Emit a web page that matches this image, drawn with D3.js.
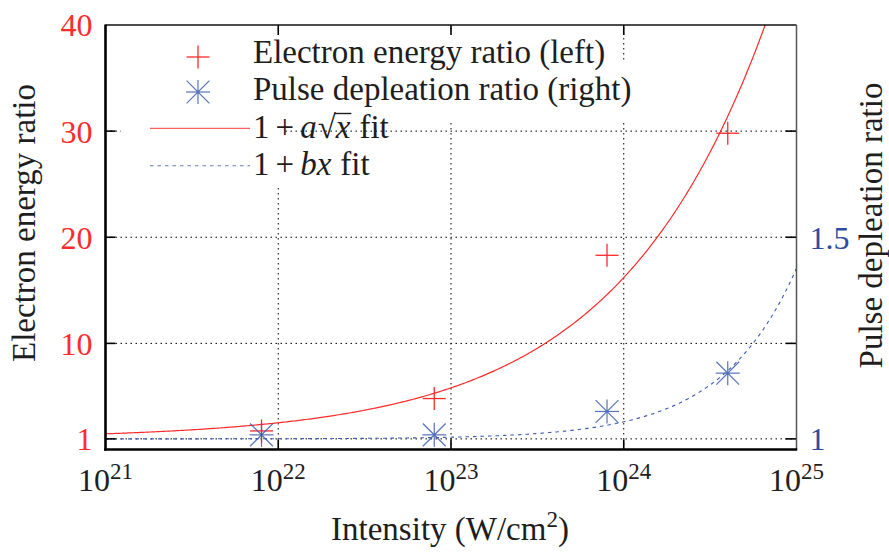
<!DOCTYPE html>
<html>
<head>
<meta charset="utf-8">
<script src="https://cdn.jsdelivr.net/npm/d3@7"></script>
<style>
  html, body { margin: 0; padding: 0; background: #fff; }
  svg { display: block; font-family: "Liberation Serif", "Times New Roman", serif; }
</style>
</head>
<body>
<svg id="chart" width="889" height="552"></svg>
<script>
// ---------------- data ----------------
const xTickExponents = [21, 22, 23, 24, 25];
const xTickValues = [1e21, 1e22, 1e23, 1e24, 1e25];
const leftTickValues = [1, 10, 20, 30, 40];
const rightTickValues = [1, 1.5];
const rightTickLabels = ["1", "1.5"];
const intensity = [8e21, 8e22, 8e23, 4e24];
const electronRatio = [1.75, 4.8, 18.3, 29.8];
const pulseRatio = [1.01, 1.01, 1.068, 1.163];
const fitA = 1.52e-11;   // 1 + a*sqrt(x)
const fitB = 4.23e-26;   // 1 + b*x
const legendLabels = ["Electron energy ratio (left)", "Pulse depleation ratio (right)"];

// ---------------- setup ----------------
const RED = "#ff2a2a", BLUE = "#3a5bb0", LBLUE = "#2d4c9f", INK = "#1e1e1e";
const svg = d3.select("#chart");
const L = 105.5, R = 796.5, T = 25, B = 449.5;

const x = d3.scaleLog().domain([1e21, 1e25]).range([L, R]);
const yL = d3.scaleLinear().domain([0, 40]).range([B, T]);
// right axis tied to left: right = 1 + (left - 1) / 38
const yR = d3.scaleLinear().domain([1 - 1 / 38, 1 + 39 / 38]).range([B, T]);

svg.append("defs").append("clipPath").attr("id", "clip")
  .append("rect").attr("x", L).attr("y", T).attr("width", R - L).attr("height", B - T);

// ---------------- grid ----------------
const grid = svg.append("g").attr("stroke", "#000").attr("stroke-width", 1)
  .attr("stroke-dasharray", "1.5,3.5");
grid.selectAll("line.v").data(xTickValues.slice(1, -1)).join("line")
  .attr("x1", d => x(d)).attr("x2", d => x(d)).attr("y1", B).attr("y2", T);
grid.selectAll("line.h").data(leftTickValues.slice(0, -1)).join("line")
  .attr("y1", d => yL(d)).attr("y2", d => yL(d)).attr("x1", L).attr("x2", R);

// key opaque areas (grid hidden behind legend as in the original)
const keyBg = svg.append("g").attr("fill", "#fff");
keyBg.append("rect").attr("x", 121).attr("y", 33).attr("width", 485).attr("height", 88);
keyBg.append("rect").attr("x", 121).attr("y", 63).attr("width", 511).attr("height", 58);
keyBg.append("rect").attr("x", 121).attr("y", 120).attr("width", 161).attr("height", 67);

// ---------------- fit curves ----------------
const plot = svg.append("g").attr("clip-path", "url(#clip)");
const xs = d3.range(0, 401).map(i => Math.pow(10, 21 + i * 4 / 400));
plot.append("path")
  .datum(xs)
  .attr("fill", "none").attr("stroke", RED).attr("stroke-width", 1.2)
  .attr("d", d3.line().x(d => x(d)).y(d => yL(1 + fitA * Math.sqrt(d))));
plot.append("path")
  .datum(xs)
  .attr("fill", "none").attr("stroke", BLUE).attr("stroke-width", 1.1)
  .attr("stroke-dasharray", "3.5,4")
  .attr("d", d3.line().x(d => x(d)).y(d => yR(1 + fitB * d)));

// ---------------- markers ----------------
function plus(g, cx, cy, h) {
  g.append("line").attr("x1", cx - h).attr("x2", cx + h).attr("y1", cy).attr("y2", cy);
  g.append("line").attr("x1", cx).attr("x2", cx).attr("y1", cy - h).attr("y2", cy + h);
}
function star(g, cx, cy, h) {
  plus(g, cx, cy, h);
  const d = h * 0.95;
  g.append("line").attr("x1", cx - d).attr("x2", cx + d).attr("y1", cy - d).attr("y2", cy + d);
  g.append("line").attr("x1", cx - d).attr("x2", cx + d).attr("y1", cy + d).attr("y2", cy - d);
  g.append("circle").attr("cx", cx).attr("cy", cy).attr("r", 1.6).attr("fill", BLUE).attr("stroke", "none");
}
const redG = svg.append("g").attr("stroke", RED).attr("stroke-width", 1.3);
intensity.forEach((v, i) => plus(redG, x(v), yL(electronRatio[i]), 11.5));
const blueG = svg.append("g").attr("stroke", BLUE).attr("stroke-width", 1.2).attr("opacity", 0.85);
intensity.forEach((v, i) => star(blueG, x(v), yR(pulseRatio[i]), 12));

// ---------------- ticks ----------------
const ticks = svg.append("g").attr("stroke", "#000").attr("stroke-width", 1.6);
leftTickValues.slice(0, -1).forEach(v => {
  ticks.append("line").attr("x1", L).attr("x2", L + 10).attr("y1", yL(v)).attr("y2", yL(v));
  ticks.append("line").attr("x1", R).attr("x2", R - 11).attr("y1", yL(v)).attr("y2", yL(v));
});
xTickValues.slice(1, -1).forEach(v => {
  ticks.append("line").attr("x1", x(v)).attr("x2", x(v)).attr("y1", B).attr("y2", B - 10);
  ticks.append("line").attr("x1", x(v)).attr("x2", x(v)).attr("y1", T).attr("y2", T + 10);
});

// frame
svg.append("line").attr("x1", L).attr("x2", R).attr("y1", T).attr("y2", T).attr("stroke", "#111").attr("stroke-width", 1.5);
svg.append("line").attr("x1", R).attr("x2", R).attr("y1", T).attr("y2", B).attr("stroke", "#555").attr("stroke-width", 1.5);
svg.append("line").attr("x1", L).attr("x2", L).attr("y1", T - 0.5).attr("y2", B + 1.3).attr("stroke", "#000").attr("stroke-width", 2.6);
svg.append("line").attr("x1", L - 1.3).attr("x2", R + 0.7).attr("y1", B).attr("y2", B).attr("stroke", "#000").attr("stroke-width", 2.6);

// ---------------- tick labels ----------------
const leftAxis = d3.axisLeft(yL).tickValues(leftTickValues).tickSize(0).tickPadding(13);
const la = svg.append("g").attr("transform", `translate(${L},0)`).call(leftAxis);
la.select(".domain").remove();
la.selectAll("text").attr("fill", RED).attr("font-size", 32).attr("font-family", "Liberation Serif").attr("dy", "0.34em");

const rightAxis = d3.axisRight(yR).tickValues(rightTickValues).tickFormat((d, i) => rightTickLabels[i]).tickSize(0).tickPadding(13);
const ra = svg.append("g").attr("transform", `translate(${R},0)`).call(rightAxis);
ra.select(".domain").remove();
ra.selectAll("text").attr("fill", LBLUE).attr("font-size", 32).attr("font-family", "Liberation Serif").attr("dy", "0.34em");

const xl = svg.append("g");
xTickValues.forEach((v, i) => {
  const t = xl.append("text").attr("x", x(v)).attr("y", 491).attr("text-anchor", "middle")
    .attr("font-size", 32).attr("fill", INK);
  t.append("tspan").text("10");
  t.append("tspan").attr("dy", -12).attr("font-size", 23).text(xTickExponents[i]);
});

// ---------------- axis titles ----------------
const xt = svg.append("text").attr("x", 450).attr("y", 540).attr("text-anchor", "middle")
  .attr("font-size", 33).attr("fill", INK);
xt.append("tspan").text("Intensity (W/cm");
xt.append("tspan").attr("dy", -13).attr("font-size", 23).text("2");
xt.append("tspan").attr("dy", 13).text(")");

svg.append("text").attr("transform", "translate(35,223) rotate(-90)").attr("text-anchor", "middle")
  .attr("font-size", 33).attr("fill", INK).text("Electron energy ratio");
svg.append("text").attr("transform", "translate(882,225.5) rotate(-90)").attr("text-anchor", "middle")
  .attr("font-size", 33).attr("fill", INK).text("Pulse depleation ratio");

// ---------------- legend ----------------
const lg = svg.append("g");
const lgRed = lg.append("g").attr("stroke", RED).attr("stroke-width", 1.3);
plus(lgRed, 198, 57, 11.5);
const lgBlue = lg.append("g").attr("stroke", BLUE).attr("stroke-width", 1.2).attr("opacity", 0.85);
star(lgBlue, 198, 92, 12);
lg.append("line").attr("x1", 150).attr("x2", 250).attr("y1", 128.3).attr("y2", 128.3)
  .attr("stroke", RED).attr("stroke-width", 1.2).attr("opacity", 0.75);
lg.append("line").attr("x1", 150).attr("x2", 250).attr("y1", 165.7).attr("y2", 165.7)
  .attr("stroke", BLUE).attr("stroke-width", 1.1).attr("stroke-dasharray", "3.5,4").attr("opacity", 0.8);

lg.append("text").attr("x", 253).attr("y", 63.3).attr("font-size", 33).attr("fill", INK).text(legendLabels[0]);
lg.append("text").attr("x", 253).attr("y", 100).attr("font-size", 33).attr("fill", INK).text(legendLabels[1]);

const f1 = lg.append("text").attr("x", 253).attr("y", 138.3).attr("font-size", 33).attr("fill", INK);
f1.append("tspan").text("1");
f1.append("tspan").attr("dx", 6).text("+");
f1.append("tspan").attr("dx", 6).attr("font-style", "italic").text("a");
f1.append("tspan").attr("dx", 1).text("\u221A");
f1.append("tspan").attr("font-style", "italic").text("x");
f1.append("tspan").attr("dx", 9).text("fit");
try {
  const node = f1.node();
  const ext = node.getExtentOfChar(4);
  const extR = node.getExtentOfChar(3);
  lg.append("line").attr("x1", extR.x + extR.width - 1).attr("x2", ext.x + ext.width + 1)
    .attr("y1", 113.5).attr("y2", 113.5).attr("stroke", INK).attr("stroke-width", 1.4);
} catch (e) {}

const f2 = lg.append("text").attr("x", 253).attr("y", 175).attr("font-size", 33).attr("fill", INK);
f2.append("tspan").text("1");
f2.append("tspan").attr("dx", 6).text("+");
f2.append("tspan").attr("dx", 6).attr("font-style", "italic").text("bx");
f2.append("tspan").attr("dx", 9).text("fit");
</script>
</body>
</html>
